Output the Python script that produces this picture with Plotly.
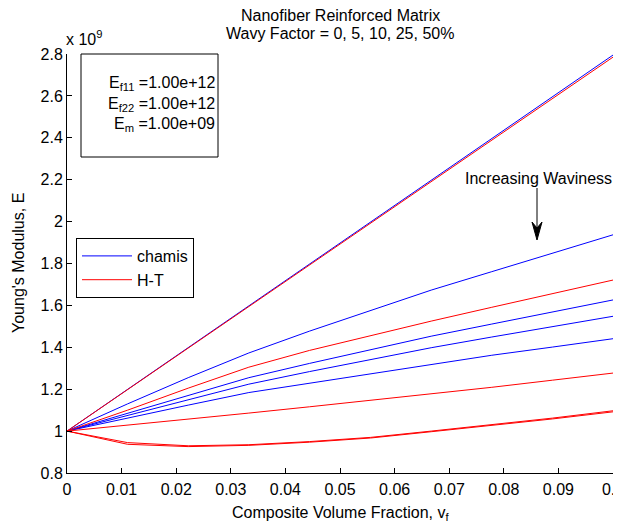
import plotly.graph_objects as go

# ---------------- data ----------------
vf = [0, 0.0111, 0.0222, 0.0333, 0.0444, 0.0556, 0.0667, 0.0778, 0.0889, 0.1]

# chamis (blue), waviness 0, 5, 10, 25, 50 %  (units of 1e9)
chamis_w0 = [1, 1.199, 1.399, 1.598, 1.797, 1.996, 2.196, 2.396, 2.595, 2.795]
chamis_w5 = [1, 1.13, 1.255, 1.373, 1.477, 1.577, 1.673, 1.761, 1.849, 1.937]
chamis_w10 = [1, 1.085, 1.17, 1.255, 1.323, 1.390, 1.453, 1.511, 1.569, 1.626]
chamis_w25 = [1, 1.075, 1.148, 1.224, 1.284, 1.343, 1.398, 1.449, 1.498, 1.548]
chamis_w50 = [1, 1.063, 1.124, 1.184, 1.229, 1.274, 1.319, 1.362, 1.401, 1.441]

# H-T (red)
ht_w0 = [1, 1.198, 1.397, 1.595, 1.794, 1.992, 2.19, 2.389, 2.587, 2.785]
ht_w5 = [1, 1.1, 1.205, 1.305, 1.385, 1.456, 1.525, 1.591, 1.656, 1.721]
ht_w10 = [1, 1.028, 1.056, 1.086, 1.116, 1.146, 1.176, 1.209, 1.243, 1.277]
ht_w25 = [1, 0.945, 0.93, 0.935, 0.95, 0.97, 1.0, 1.03, 1.062, 1.097]
ht_w50 = [1, 0.937, 0.926, 0.932, 0.947, 0.967, 0.997, 1.027, 1.058, 1.092]

x_ticks = [0, 0.01, 0.02, 0.03, 0.04, 0.05, 0.06, 0.07, 0.08, 0.09, 0.1]
x_labels = ["0", "0.01", "0.02", "0.03", "0.04", "0.05", "0.06", "0.07", "0.08", "0.09", "0.1"]
y_ticks = [0.8, 1.0, 1.2, 1.4, 1.6, 1.8, 2.0, 2.2, 2.4, 2.6, 2.8]
y_labels = ["0.8", "1", "1.2", "1.4", "1.6", "1.8", "2", "2.2", "2.4", "2.6", "2.8"]

chamis_series = [chamis_w0, chamis_w5, chamis_w10, chamis_w25, chamis_w50]
ht_series = [ht_w0, ht_w5, ht_w10, ht_w25, ht_w50]

# ---------------- layout geometry ----------------
# the page body has an 8px margin, so the figure starts at (8, 8) in the window
OFF = 8
W, H = 621 - OFF, 525 - OFF
PX0, PX1, PY0, PY1 = 67, 613, 54, 473          # plot area in window pixels
L, R = PX0 - OFF, W - (PX1 - OFF)
T, B = PY0 - OFF, H - (PY1 - OFF)
PW, PH = PX1 - PX0, PY1 - PY0


def px(x):
    return (x - PX0) / PW


def py(y):
    return (PY1 - y) / PH


FONT = "Liberation Sans, Arial, Helvetica, sans-serif"

fig = go.Figure()
for i, s in enumerate(chamis_series):
    fig.add_trace(go.Scatter(x=vf, y=s, mode="lines", name="chamis",
                             line=dict(color="rgb(0,0,255)", width=1),
                             showlegend=(i == 0), legendgroup="chamis"))
for i, s in enumerate(ht_series):
    fig.add_trace(go.Scatter(x=vf, y=s, mode="lines", name="H-T",
                             line=dict(color="rgb(255,0,0)", width=1),
                             showlegend=(i == 0), legendgroup="ht"))

axis_common = dict(showline=True, linecolor="black", linewidth=1, mirror=False,
                   ticks="inside", ticklen=5, tickcolor="black", tickwidth=1,
                   showgrid=False, zeroline=False, ticklabeloverflow="allow",
                   automargin=False,
                   tickfont=dict(family=FONT, size=16, color="black"))

fig.update_layout(
    width=W, height=H, autosize=False,
    margin=dict(l=L, r=R, t=T, b=B),
    paper_bgcolor="white", plot_bgcolor="white",
    font=dict(family=FONT, size=16, color="black"),
    xaxis=dict(range=[0, 0.1], tickvals=x_ticks, ticktext=x_labels,
               ticklabelstandoff=2, **axis_common),
    yaxis=dict(range=[0.8, 2.8], tickvals=y_ticks, ticktext=y_labels, **axis_common),
    legend=dict(x=px(76), y=py(238), xanchor="left", yanchor="top",
                bgcolor="white", bordercolor="black", borderwidth=1,
                font=dict(family=FONT, size=16, color="black"), itemwidth=50,
                tracegroupgap=0),
)

ann = []
ann.append(dict(text="Nanofiber Reinforced Matrix", x=px(340), y=py(16)))
ann.append(dict(text="Wavy Factor = 0, 5, 10, 25, 50%", x=px(340), y=py(34)))
ann.append(dict(text="x 10<sup>9</sup>", x=px(64), y=py(38), xanchor="left"))
ann.append(dict(text="Young's Modulus, E", x=px(18), y=py(263), textangle=-90))
ann.append(dict(text="Composite Volume Fraction, v<sub>f</sub>", x=px(340), y=py(513)))
ann.append(dict(text="E<sub>f11</sub> =1.00e+12", x=px(217), y=py(83), xanchor="right"))
ann.append(dict(text="E<sub>f22</sub> =1.00e+12", x=px(217), y=py(104), xanchor="right"))
ann.append(dict(text="E<sub>m</sub> =1.00e+09", x=px(217), y=py(125), xanchor="right"))
ann.append(dict(text="Increasing Waviness", x=px(538), y=py(178)))
for a in ann:
    a.update(xref="paper", yref="paper", showarrow=False,
             font=dict(family=FONT, size=16, color="black"))
    a.setdefault("xanchor", "center")
    a.setdefault("yanchor", "middle")
fig.update_layout(annotations=ann)

# text box frame
fig.add_shape(type="rect", xref="paper", yref="paper",
              x0=px(81), x1=px(218), y0=py(157), y1=py(54),
              line=dict(color="black", width=1), fillcolor="rgba(0,0,0,0)")

# arrow (shaft + notched head)
ax = 537
fig.add_shape(type="line", xref="paper", yref="paper",
              x0=px(ax), x1=px(ax), y0=py(188), y1=py(228),
              line=dict(color="black", width=1))
head = (f"M {px(ax)},{py(240)} L {px(ax-5)},{py(222)} L {px(ax)},{py(228)} "
        f"L {px(ax+5)},{py(222)} Z")
fig.add_shape(type="path", xref="paper", yref="paper", path=head,
              fillcolor="black", line=dict(color="black", width=1))

fig.write_html("out.html")
